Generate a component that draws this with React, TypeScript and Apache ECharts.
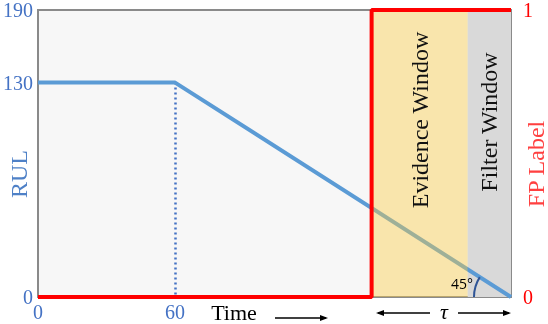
import React, { useEffect, useRef } from "react";
import * as echarts from "echarts";

// Data
const rulX = [0, 60, 207];
const rulValues = [130, 130, 0];
const fpX = [0, 146, 146, 207];
const fpValues = [0, 0, 1, 1];
const evidenceWindow = [146, 188];
const filterWindow = [188, 207];
const xTickValues = [0, 60];
const yTickValues = [0, 130, 174];
const yTickLabels = ["0", "130", "190"];
const fpTickValues = [0, 1];
const xMax = 207;
const yMax = 174;

const SERIF = "'Liberation Serif', 'DejaVu Serif', serif";

export default function App() {
  const ref = useRef<HTMLDivElement>(null);
  useEffect(() => {
    if (!ref.current) return;
    const chart = echarts.init(ref.current, undefined, { renderer: "svg" });
    const option: any = {
      animation: false,
      grid: {
        left: 33,
        right: 37,
        top: 10,
        bottom: 27,
        show: true,
        backgroundColor: "#f7f7f7",
        borderColor: "#8a8a8a",
        borderWidth: 2,
      },
      xAxis: {
        type: "value",
        min: 0,
        max: xMax,
        axisLine: { show: false },
        axisTick: { show: false },
        splitLine: { show: false },
        axisLabel: {
          customValues: xTickValues,
          color: "#4472c4",
          fontFamily: SERIF,
          fontSize: 20,
          margin: 5,
        },
      },
      yAxis: [
        {
          type: "value",
          min: 0,
          max: yMax,
          axisLine: { show: false },
          axisTick: { show: false },
          splitLine: { show: false },
          axisLabel: {
            customValues: yTickValues,
            formatter: (v: number) => yTickLabels[yTickValues.indexOf(v)] ?? "",
            color: "#4472c4",
            fontFamily: SERIF,
            fontSize: 20,
            margin: 5,
          },
        },
        {
          type: "value",
          min: 0,
          max: 1,
          position: "right",
          axisLine: { show: false },
          axisTick: { show: false },
          splitLine: { show: false },
          axisLabel: {
            customValues: fpTickValues,
            color: "#ff0000",
            fontFamily: SERIF,
            fontSize: 20,
            margin: 12,
          },
        },
      ],
      series: [
        {
          type: "line",
          name: "filter",
          data: [],
          z: 1,
          markArea: {
            silent: true,
            z: 1,
            itemStyle: { color: "#d9d9d9" },
            data: [[{ xAxis: filterWindow[0] }, { xAxis: filterWindow[1] }]],
          },
        },
        {
          type: "line",
          name: "RUL",
          z: 2,
          symbol: "none",
          lineStyle: { color: "#5b9bd5", width: 4 },
          data: rulX.map((x, i) => [x, rulValues[i]]),
          markLine: {
            silent: true,
            symbol: "none",
            z: 2,
            label: { show: false },
            lineStyle: { color: "#4472c4", type: [2, 3], width: 2.5 },
            data: [[{ coord: [rulX[1], rulValues[1]] }, { coord: [rulX[1], 0] }]],
          },
        },
        {
          type: "line",
          name: "evidence",
          data: [],
          z: 3,
          markArea: {
            silent: true,
            z: 3,
            itemStyle: { color: "rgb(252,205,70)", opacity: 0.42 },
            data: [[{ xAxis: evidenceWindow[0] }, { xAxis: evidenceWindow[1] }]],
          },
        },
        {
          type: "line",
          name: "FP Label",
          yAxisIndex: 1,
          z: 5,
          symbol: "none",
          lineStyle: { color: "#ff0000", width: 4 },
          data: fpX.map((x, i) => [x, fpValues[i]]),
        },
      ],
    };
    chart.setOption(option);

    const end = chart.convertToPixel({ xAxisIndex: 0, yAxisIndex: 0 }, [rulX[2], rulValues[2]]);
    const knee = chart.convertToPixel({ xAxisIndex: 0, yAxisIndex: 0 }, [rulX[1], rulValues[1]]);
    const ang = Math.atan2(end[1] - knee[1], end[0] - knee[0]);
    const r = 37;
    const evMid = chart.convertToPixel({ xAxisIndex: 0, yAxisIndex: 0 }, [(evidenceWindow[0] + evidenceWindow[1]) / 2, 0]);
    const fiMid = chart.convertToPixel({ xAxisIndex: 0, yAxisIndex: 0 }, [(filterWindow[0] + filterWindow[1]) / 2, 0]);

    const arrow = (x1: number, x2: number, y: number, dir: number) => [
      { type: "line", shape: { x1, y1: y, x2, y2: y }, style: { stroke: "#000", lineWidth: 1.5 } },
      {
        type: "polygon",
        shape: {
          points: dir > 0
            ? [[x2 + 2, y], [x2 - 6, y - 3], [x2 - 6, y + 3]]
            : [[x2 - 2, y], [x2 + 6, y - 3], [x2 + 6, y + 3]],
        },
        style: { fill: "#000" },
      },
    ];

    chart.setOption({
      graphic: [
        {
          type: "text",
          x: 19,
          y: 174,
          rotation: Math.PI / 2,
          style: { text: "RUL", fill: "#4f81c7", font: `24px ${SERIF}`, align: "center", verticalAlign: "middle" },
        },
        {
          type: "text",
          x: 536,
          y: 164,
          rotation: Math.PI / 2,
          style: { text: "FP Label", fill: "#ff4040", font: `24px ${SERIF}`, align: "center", verticalAlign: "middle" },
        },
        {
          type: "text",
          x: evMid[0],
          y: 120,
          rotation: Math.PI / 2,
          z: 10,
          style: { text: "Evidence Window", fill: "#111", font: `24px ${SERIF}`, align: "center", verticalAlign: "middle" },
        },
        {
          type: "text",
          x: fiMid[0],
          y: 122,
          rotation: Math.PI / 2,
          z: 10,
          style: { text: "Filter Window", fill: "#111", font: `24px ${SERIF}`, align: "center", verticalAlign: "middle" },
        },
        {
          type: "text",
          x: 234,
          y: 312,
          style: { text: "Time", fill: "#000", font: `22px ${SERIF}`, align: "center", verticalAlign: "middle" },
        },
        ...arrow(275, 326, 318, 1),
        {
          type: "text",
          x: 444,
          y: 311,
          style: { text: "τ", fill: "#000", font: `italic 22px ${SERIF}`, align: "center", verticalAlign: "middle" },
        },
        ...arrow(430, 378, 313, -1),
        ...arrow(458, 509, 313, 1),
        {
          type: "arc",
          z: 10,
          shape: { cx: end[0], cy: end[1], r, startAngle: Math.PI, endAngle: Math.PI + ang, clockwise: true },
          style: { stroke: "#2f5597", lineWidth: 2, fill: "none" },
        },
        {
          type: "text",
          z: 10,
          x: end[0] - r - 1,
          y: end[1] - 14,
          style: { text: "45°", fill: "#000", font: "14px 'Open Sans', sans-serif", align: "right", verticalAlign: "middle" },
        },
      ],
    });
    return () => chart.dispose();
  }, []);
  return <div ref={ref} style={{ position: "fixed", left: 0, top: 0, width: 548, height: 324 }} />;
}
